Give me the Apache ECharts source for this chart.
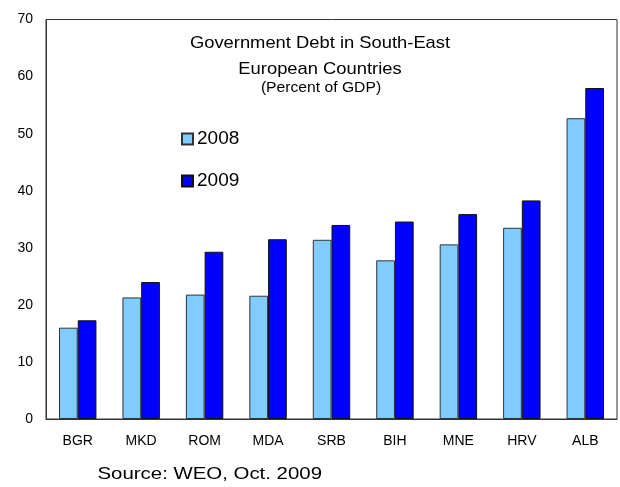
<!DOCTYPE html>
<html>
<head>
<meta charset="utf-8">
<script src="https://cdn.jsdelivr.net/npm/echarts@6/dist/echarts.min.js"></script>
<style>
html,body{margin:0;padding:0;background:#fff;}
#chart{width:620px;height:487px;}
</style>
</head>
<body>
<div id="chart"></div>
<script>
var categories = ['BGR', 'MKD', 'ROM', 'MDA', 'SRB', 'BIH', 'MNE', 'HRV', 'ALB'];
var values2008 = [16.0, 21.3, 21.8, 21.6, 31.4, 27.8, 30.6, 33.5, 52.7];
var values2009 = [17.3, 24.0, 29.3, 31.5, 34.0, 34.6, 35.9, 38.3, 58.0];
var yTicks = [0, 10, 20, 30, 40, 50, 60, 70];
var titleLines = ['Government Debt in South-East', 'European Countries'];
var subtitleText = '(Percent of GDP)';
var sourceText = 'Source: WEO, Oct. 2009';

var FONT = '"Liberation Sans", Arial, sans-serif';
var chart = echarts.init(document.getElementById('chart'), null, {renderer: 'canvas'});

function label(text, x, y, size, sx, align) {
  return {
    type: 'text', x: x, y: y, scaleX: sx, scaleY: 1, silent: true,
    style: {
      text: text, fill: '#000',
      font: 'normal ' + size + 'px ' + FONT,
      align: align || 'center', verticalAlign: 'middle'
    }
  };
}

chart.setOption({
  backgroundColor: '#ffffff',
  animation: false,
  textStyle: {fontFamily: FONT},
  graphic: [
    label(titleLines[0], 320, 43.5, 17, 1.08),
    label(titleLines[1], 320, 69.5, 17, 1.08),
    label(subtitleText, 321, 88, 14, 1.12),
    label(sourceText, 97.5, 474.5, 17, 1.2, 'left')
  ],
  legend: {
    orient: 'vertical',
    left: 176, top: 124,
    itemWidth: 11, itemHeight: 11,
    itemGap: 22,
    icon: 'rect',
    data: ['2008', '2009'],
    textStyle: {fontFamily: FONT, fontSize: 19, color: '#000', lineHeight: 20, padding: [0, 0, 0, -1]}
  },
  grid: {
    left: 46, right: 3, top: 19.5, bottom: 68,
    show: true, borderColor: '#333', borderWidth: 1
  },
  xAxis: {
    type: 'category',
    data: categories,
    axisLine: {show: true, lineStyle: {color: '#333', width: 1}},
    axisTick: {show: false},
    axisLabel: {fontFamily: FONT, fontSize: 14, color: '#000', margin: 15}
  },
  yAxis: {
    type: 'value',
    min: yTicks[0], max: yTicks[yTicks.length - 1], interval: 10,
    axisLine: {show: true, lineStyle: {color: '#333', width: 1}},
    axisTick: {show: false},
    splitLine: {show: false},
    axisLabel: {fontFamily: FONT, fontSize: 14, color: '#000', margin: 13}
  },
  series: [
    {
      name: '2008', type: 'bar', data: values2008,
      barGap: '0%', barCategoryGap: '41%',
      itemStyle: {color: '#80CCFF', borderColor: '#333', borderWidth: 1}
    },
    {
      name: '2009', type: 'bar', data: values2009,
      barGap: '0%', barCategoryGap: '41%',
      itemStyle: {color: '#0000FF', borderColor: '#111', borderWidth: 1}
    }
  ]
});
</script>
</body>
</html>
